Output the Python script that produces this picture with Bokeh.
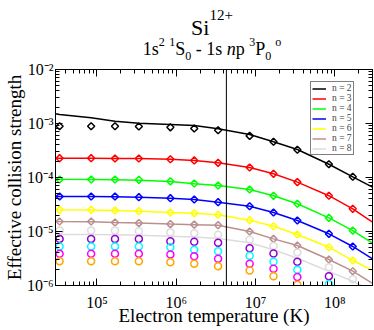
import numpy as np
from bokeh.plotting import figure
from bokeh.layouts import column
from bokeh.models import Legend, LegendItem, LogAxis, FixedTicker, Span, Div
from bokeh.embed import file_html
from bokeh.resources import INLINE

# ---------------- data ----------------
T = [3.38e4, 8.45e4, 1.69e5, 3.38e5, 8.45e5, 1.69e6, 3.38e6, 8.45e6, 1.69e7, 3.38e7, 8.45e7, 1.69e8]
T_line = [3.0e4, 3.38e4, 8.45e4, 1.69e5, 3.38e5, 8.45e5, 1.69e6, 3.38e6, 8.45e6, 1.69e7, 3.38e7, 8.45e7, 1.69e8, 3.0e8]

# diamonds (n = 2..7)
pts_n2 = [8.9e-4, 8.9e-4, 8.9e-4, 8.8e-4, 8.5e-4, 8.1e-4, 7.5e-4, 5.9e-4, 4.6e-4, 3.26e-4, 1.76e-4, 1.03e-4]
pts_n3 = [2.28e-4, 2.28e-4, 2.25e-4, 2.25e-4, 2.18e-4, 2.07e-4, 1.87e-4, 1.53e-4, 1.17e-4, 8.2e-5, 4.6e-5, 2.63e-5]
pts_n4 = [9.2e-5, 9.2e-5, 9.2e-5, 9.06e-5, 8.5e-5, 7.74e-5, 7.1e-5, 6.0e-5, 4.58e-5, 3.26e-5, 1.79e-5, 1.04e-5]
pts_n5 = [4.45e-5, 4.45e-5, 4.45e-5, 4.32e-5, 4.14e-5, 3.92e-5, 3.49e-5, 2.94e-5, 2.25e-5, 1.6e-5, 9.06e-6, 5.28e-6]
pts_n6 = [2.52e-5, 2.52e-5, 2.45e-5, 2.38e-5, 2.25e-5, 2.17e-5, 2.04e-5, 1.62e-5, 1.25e-5, 8.8e-6, 5.12e-6, 2.9e-6]
pts_n7 = [1.53e-5, 1.53e-5, 1.47e-5, 1.43e-5, 1.37e-5, 1.34e-5, 1.31e-5, 1.0e-5, 7.3e-6, 5.5e-6, 3.03e-6, 1.84e-6]
# circles (n = 8..12)
pts_n8 = [1.04e-5, 1.04e-5, 1.04e-5, 1.01e-5, 9.7e-6, 9.3e-6, 8.7e-6, 7.0e-6, 5.4e-6, 4.1e-6, 2.18e-6, 1.31e-6]
pts_n9 = [7.3e-6, 7.3e-6, 7.3e-6, 7.3e-6, 6.6e-6, 6.47e-6, 6.18e-6, 4.9e-6, 3.9e-6, 2.75e-6, 1.49e-6, np.nan]
pts_n10 = [5.28e-6, 5.28e-6, 5.28e-6, 5.28e-6, 5.12e-6, 4.6e-6, 4.3e-6, 3.55e-6, 2.75e-6, 1.95e-6, 1.07e-6, np.nan]
pts_n11 = [3.86e-6, 3.86e-6, 3.86e-6, 3.86e-6, 3.75e-6, 3.47e-6, 3.12e-6, 2.52e-6, 2.04e-6, 1.43e-6, np.nan, np.nan]
pts_n12 = [2.82e-6, 2.82e-6, 2.82e-6, 2.82e-6, 2.7e-6, 2.53e-6, 2.28e-6, 1.9e-6, 1.49e-6, 1.03e-6, np.nan, np.nan]

# curves (n = 2..8)
line_n2 = [1.51e-3, 1.47e-3, 1.28e-3, 1.10e-3, 1.01e-3, 9.6e-4, 9.2e-4, 7.97e-4, 6.25e-4, 4.6e-4, 3.3e-4, 1.76e-4, 1.03e-4, 6.65e-5]
line_n3 = [2.3e-4, 2.28e-4, 2.28e-4, 2.25e-4, 2.25e-4, 2.18e-4, 2.07e-4, 1.87e-4, 1.53e-4, 1.17e-4, 8.2e-5, 4.6e-5, 2.63e-5, 1.49e-5]
line_n4 = [9.4e-5, 9.3e-5, 9.2e-5, 9.1e-5, 8.9e-5, 8.4e-5, 7.7e-5, 7.1e-5, 6.0e-5, 4.58e-5, 3.26e-5, 1.79e-5, 1.04e-5, 6.07e-6]
line_n5 = [4.5e-5, 4.45e-5, 4.45e-5, 4.42e-5, 4.32e-5, 4.14e-5, 3.92e-5, 3.49e-5, 2.94e-5, 2.25e-5, 1.6e-5, 9.06e-6, 5.28e-6, 3.12e-6]
line_n6 = [2.55e-5, 2.52e-5, 2.5e-5, 2.45e-5, 2.38e-5, 2.25e-5, 2.17e-5, 2.04e-5, 1.62e-5, 1.25e-5, 8.8e-6, 5.12e-6, 2.9e-6, 1.9e-6]
line_n7 = [1.55e-5, 1.53e-5, 1.52e-5, 1.47e-5, 1.43e-5, 1.37e-5, 1.34e-5, 1.31e-5, 1.0e-5, 7.3e-6, 5.5e-6, 3.03e-6, 1.84e-6, 1.09e-6]
line_n8 = [8.8e-6, 8.8e-6, 8.8e-6, 8.7e-6, 8.5e-6, 8.2e-6, 7.9e-6, 7.4e-6, 6.2e-6, 4.6e-6, 3.2e-6, 1.83e-6, 1.2e-6, 8.0e-7]

legend_labels = ["n = 2", "n = 3", "n = 4", "n = 5", "n = 6", "n = 7", "n = 8"]
x_major = [1e5, 1e6, 1e7, 1e8]
x_tick_labels = ["10\u2075", "10\u2076", "10\u2077", "10\u2078"]
y_major = [1e-6, 1e-5, 1e-4, 1e-3, 1e-2]
y_tick_labels = ["10\u207b\u2076", "10\u207b\u2075", "10\u207b\u2074", "10\u207b\u00b3", "10\u207b\u00b2"]
vline_T = 4.3e6

FONT = "Liberation Serif"
C_BLACK, C_RED, C_GREEN, C_BLUE = "#000000", "#FF0000", "#00FF00", "#0000FF"
C_YELLOW, C_BROWN, C_GREY = "#FFFF00", "#BC8F8F", "#DCDCDC"
C_VIOLET, C_CYAN, C_MAGENTA, C_ORANGE = "#9400D3", "#00FFFF", "#FF00FF", "#FFA500"

# ---------------- title block (HTML) ----------------
title_html = (
    "<div style=\"position:relative;width:374px;height:60px;font-family:'Liberation Serif';color:black;\">"
    "<div style=\"position:absolute;left:50px;right:0;top:8px;text-align:center;font-size:22px;line-height:1;white-space:nowrap;\">"
    "Si<span style=\"font-size:15px;vertical-align:15px;\">12+</span></div>"
    "<div style=\"position:absolute;left:50px;right:0;top:36px;text-align:center;font-size:18px;line-height:1;white-space:nowrap;\">"
    "1s<span style=\"font-size:12px;vertical-align:9px;\">2</span> "
    "<span style=\"font-size:12px;vertical-align:9px;\">1</span>S"
    "<span style=\"font-size:12px;vertical-align:-5px;\">0</span> - 1s <i>n</i>p "
    "<span style=\"font-size:12px;vertical-align:9px;\">3</span>P"
    "<span style=\"font-size:12px;vertical-align:-5px;\">0</span>"
    "<span style=\"font-size:12px;vertical-align:9px;margin-left:4px;\">o</span></div>"
    "</div>"
)
title_div = Div(text=title_html, width=374, height=60, margin=0)

p = figure(width=374, height=270, x_axis_type="log", y_axis_type="log",
           x_range=(3e4, 3e8), y_range=(1e-6, 1e-2),
           output_backend="svg", toolbar_location=None,
           min_border_left=52, min_border_right=2, min_border_top=9, min_border_bottom=45,
           margin=0)
p.grid.visible = False
p.outline_line_color = "black"
p.outline_line_width = 1

bottom_ax = p.below[0]
left_ax = p.left[0]

x_minor = [k * 10.0**d for d in range(4, 9) for k in range(1, 10) if 3e4 <= k * 10.0**d <= 3e8]
y_minor = [k * 10.0**d for d in range(-6, -2) for k in range(1, 10)]


def style_axis(ax, ticks, minors):
    ax.ticker = FixedTicker(ticks=ticks, minor_ticks=minors)
    ax.major_tick_in = 7
    ax.major_tick_out = 0
    ax.minor_tick_in = 4
    ax.minor_tick_out = 0
    ax.axis_line_color = "black"
    ax.major_tick_line_color = "black"
    ax.minor_tick_line_color = "black"


def hide_labels(ax):
    ax.major_label_text_color = None
    ax.major_label_text_font_size = "0px"
    ax.major_label_standoff = 0
    ax.axis_label = None


top_ax = LogAxis()
right_ax = LogAxis()
style_axis(bottom_ax, x_major, x_minor)
style_axis(top_ax, x_major, x_minor)
style_axis(left_ax, y_major, y_minor)
style_axis(right_ax, y_major, y_minor)
hide_labels(top_ax)
hide_labels(right_ax)
p.add_layout(top_ax, "above")
p.add_layout(right_ax, "right")

for ax, ticks, labels in [(bottom_ax, x_major, x_tick_labels), (left_ax, y_major, y_tick_labels)]:
    ax.major_label_overrides = {t: l for t, l in zip(ticks, labels)}
    ax.major_label_text_font = FONT
    ax.major_label_text_font_size = "16px"
    ax.major_label_text_color = "black"
    ax.axis_label_text_font = FONT
    ax.axis_label_text_font_size = "19px"
    ax.axis_label_text_font_style = "normal"
    ax.axis_label_text_color = "black"

bottom_ax.axis_label = "Electron temperature (K)"
bottom_ax.major_label_standoff = 8
bottom_ax.axis_label_standoff = -9
left_ax.axis_label = "Effective collision strength"
left_ax.major_label_standoff = 2
left_ax.axis_label_standoff = -1

# vertical marker line
p.add_layout(Span(location=vline_T, dimension="height", line_color="black", line_width=1))

# curves
curve_sets = [(line_n2, C_BLACK), (line_n3, C_RED), (line_n4, C_GREEN), (line_n5, C_BLUE),
              (line_n6, C_YELLOW), (line_n7, C_BROWN), (line_n8, C_GREY)]
line_rs = []
for vals, col in curve_sets:
    r = p.line(T_line, vals, line_color=col, line_width=1.5)
    line_rs.append(r)

# diamonds
for vals, col in [(pts_n2, C_BLACK), (pts_n3, C_RED), (pts_n4, C_GREEN), (pts_n5, C_BLUE),
                  (pts_n6, C_YELLOW), (pts_n7, C_BROWN)]:
    p.scatter(T, vals, marker="square", angle=np.pi / 4, size=5, line_color=col,
              fill_color=None, line_width=1.5)
# circles
for vals, col in [(pts_n8, C_GREY), (pts_n9, C_VIOLET), (pts_n10, C_CYAN),
                  (pts_n11, C_MAGENTA), (pts_n12, C_ORANGE)]:
    p.scatter(T, vals, marker="circle", size=7, line_color=col, fill_color=None, line_width=1.5)

legend = Legend(items=[LegendItem(label=l, renderers=[r]) for l, r in zip(legend_labels, line_rs)],
                location=(255, 130), orientation="vertical",
                label_text_font=FONT, label_text_font_size="9.5px",
                glyph_width=14, glyph_height=9, label_height=9, spacing=0,
                padding=1, margin=0, label_standoff=6,
                border_line_color="black", border_line_width=1,
                background_fill_color="white", background_fill_alpha=1.0)
p.add_layout(legend)

layout = column(title_div, p, spacing=0, margin=0)
open("out.html", "w").write(file_html(layout, INLINE))
